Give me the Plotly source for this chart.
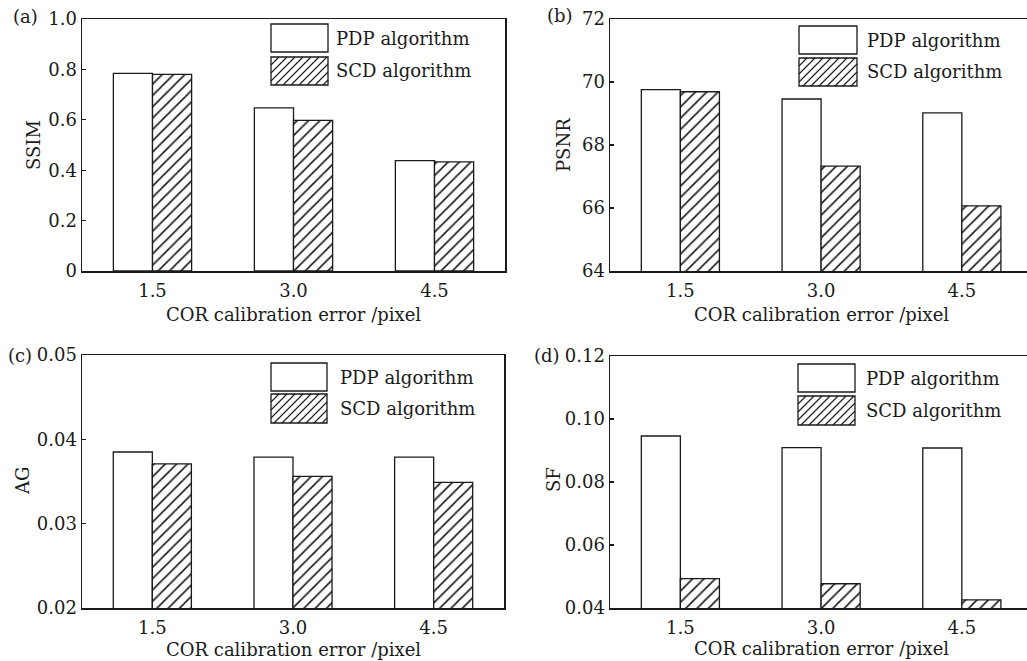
import plotly.graph_objects as go

W, H = 1027, 661

# ---------------- data ----------------
categories = ["1.5", "3.0", "4.5"]
series_names = ["PDP algorithm", "SCD algorithm"]

ssim_pdp = [0.784, 0.647, 0.438]
ssim_scd = [0.780, 0.598, 0.433]
psnr_pdp = [69.76, 69.46, 69.02]
psnr_scd = [69.69, 67.33, 66.07]
ag_pdp = [0.0385, 0.0379, 0.0379]
ag_scd = [0.0371, 0.0356, 0.0349]
sf_pdp = [0.0946, 0.0909, 0.0908]
sf_scd = [0.0493, 0.0477, 0.0426]

panel_labels = ["(a)", "(b)", "(c)", "(d)"]
y_titles = ["SSIM", "PSNR", "AG", "SF"]
x_title = "COR calibration error /pixel"
y_tickvals = [[0, 0.2, 0.4, 0.6, 0.8, 1.0],
              [64, 66, 68, 70, 72],
              [0.02, 0.03, 0.04, 0.05],
              [0.04, 0.06, 0.08, 0.10, 0.12]]
y_ticktext = [["0", "0.2", "0.4", "0.6", "0.8", "1.0"],
              ["64", "66", "68", "70", "72"],
              ["0.02", "0.03", "0.04", "0.05"],
              ["0.04", "0.06", "0.08", "0.10", "0.12"]]
pdp_values = [ssim_pdp, psnr_pdp, ag_pdp, sf_pdp]
scd_values = [ssim_scd, psnr_scd, ag_scd, sf_scd]

# ---------------- layout (pixels) ----------------
FONT = "DejaVu Serif"
FS = 18
BLACK = "#1a1a1a"
# (left, right, top, bottom, xmax_range, mirror_y)
boxes = [
    (82, 505, 19, 271, 2.5, True),
    (610, 1027, 19, 271, 2.463, False),
    (82, 504, 355, 608, 2.5, True),
    (610, 1027, 356, 608, 2.463, False),
]
label_pos = [(25, 16), (560, 15), (20, 355), (547, 355)]
ytitle_pos = [(33, 145), (563, 145), (22, 481), (553, 480)]
xtitle_y = [314, 314, 649, 648]
legend_px = [  # swatch left, swatch right, top1, bottom1, top2, bottom2, text x
    (271, 328, 24, 52, 57, 85, 334),
    (799, 857, 26, 54, 58, 86, 865),
    (271, 327, 363, 391, 394, 423, 338),
    (798, 855, 364, 392, 396, 425, 864),
]


def px(x):
    return x / W


def py(y):
    return 1 - y / H


fig = go.Figure()
annotations = []
shapes = []

for i in range(4):
    l, r, t, b, xmax, mirror_y = boxes[i]
    sfx = "" if i == 0 else str(i + 1)
    xa, ya = "x" + sfx, "y" + sfx
    fig.add_trace(go.Bar(
        x=categories, y=pdp_values[i], name=series_names[0], xaxis=xa, yaxis=ya,
        marker=dict(color="white", line=dict(color=BLACK, width=1.3)),
        showlegend=False, hoverinfo="skip"))
    fig.add_trace(go.Bar(
        x=categories, y=scd_values[i], name=series_names[1], xaxis=xa, yaxis=ya,
        marker=dict(color="white", line=dict(color=BLACK, width=1.3),
                    pattern=dict(shape="/", size=8, solidity=0.2,
                                 fgcolor=BLACK, bgcolor="white")),
        showlegend=False, hoverinfo="skip"))
    tv = y_tickvals[i]
    fig.layout["xaxis" + sfx] = dict(
        domain=[px(l), px(r)], anchor=ya, type="category", automargin=False,
        range=[-0.5, xmax], showline=True, linecolor=BLACK, linewidth=1.5,
        mirror=True, ticks="", showgrid=False, zeroline=False,
        tickfont=dict(family=FONT, size=FS, color=BLACK),
        ticklabelstandoff=3)
    fig.layout["yaxis" + sfx] = dict(
        domain=[py(b), py(t)], anchor=xa, range=[tv[0], tv[-1]], automargin=False,
        tickvals=tv, ticktext=y_ticktext[i],
        showline=True, linecolor=BLACK, linewidth=1.5, mirror=mirror_y,
        ticks="inside", ticklen=4, tickwidth=1.3, tickcolor=BLACK,
        showgrid=False, zeroline=False,
        tickfont=dict(family=FONT, size=FS, color=BLACK))

    # panel label
    lx, ly = label_pos[i]
    annotations.append(dict(text=panel_labels[i], x=px(lx), y=py(ly),
                            xref="paper", yref="paper", showarrow=False,
                            xanchor="center", yanchor="middle",
                            font=dict(family=FONT, size=FS, color=BLACK)))
    # y title
    tx, ty = ytitle_pos[i]
    annotations.append(dict(text=y_titles[i], x=px(tx), y=py(ty),
                            xref="paper", yref="paper", showarrow=False,
                            textangle=-90, xanchor="center", yanchor="middle",
                            font=dict(family=FONT, size=FS, color=BLACK)))
    # x title (centred under the middle category)
    annotations.append(dict(text=x_title, x=1, y=py(xtitle_y[i]),
                            xref=xa, yref="paper", showarrow=False,
                            xanchor="center", yanchor="middle",
                            font=dict(family=FONT, size=FS, color=BLACK)))

    # legend (manual swatches)
    sl, sr, t1, b1, t2, b2, txx = legend_px[i]
    shapes.append(dict(type="rect", xref="paper", yref="paper",
                       x0=px(sl), x1=px(sr), y0=py(b1), y1=py(t1),
                       line=dict(color=BLACK, width=1.3), fillcolor="white"))
    shapes.append(dict(type="rect", xref="paper", yref="paper",
                       x0=px(sl), x1=px(sr), y0=py(b2), y1=py(t2),
                       line=dict(color=BLACK, width=1.3), fillcolor="white"))
    # hatch lines inside second swatch, 45 deg, spacing 8 px
    h = b2 - t2
    segs = []
    u = sl - h
    while u < sr:
        xa0, ya0 = u, b2
        xa1, ya1 = u + h, t2
        if xa0 < sl:
            ya0 = b2 - (sl - u)
            xa0 = sl
        if xa1 > sr:
            ya1 = b2 - (sr - u)
            xa1 = sr
        if xa1 > xa0:
            segs.append(f"M {px(xa0):.5f} {py(ya0):.5f} L {px(xa1):.5f} {py(ya1):.5f}")
        u += 8
    shapes.append(dict(type="path", xref="paper", yref="paper",
                       path=" ".join(segs), line=dict(color=BLACK, width=1.1)))
    for txt, ta, tb in ((series_names[0], t1, b1), (series_names[1], t2, b2)):
        annotations.append(dict(text=txt, x=px(txx), y=py((ta + tb) / 2),
                                xref="paper", yref="paper", showarrow=False,
                                xanchor="left", yanchor="middle",
                                font=dict(family=FONT, size=FS, color=BLACK)))

fig.update_layout(
    template="none",
    width=W, height=H, margin=dict(l=0, r=0, t=0, b=0, pad=0), autosize=False,
    paper_bgcolor="white", plot_bgcolor="white",
    barmode="group", bargap=0.445, bargroupgap=0,
    annotations=annotations, shapes=shapes, showlegend=False,
    font=dict(family=FONT, size=FS, color=BLACK),
)

fig.write_html(
    "out.html",
    config={"displayModeBar": False, "staticPlot": True},
    post_script="document.body.style.margin='0px';"
                "document.body.style.overflow='hidden';",
)
